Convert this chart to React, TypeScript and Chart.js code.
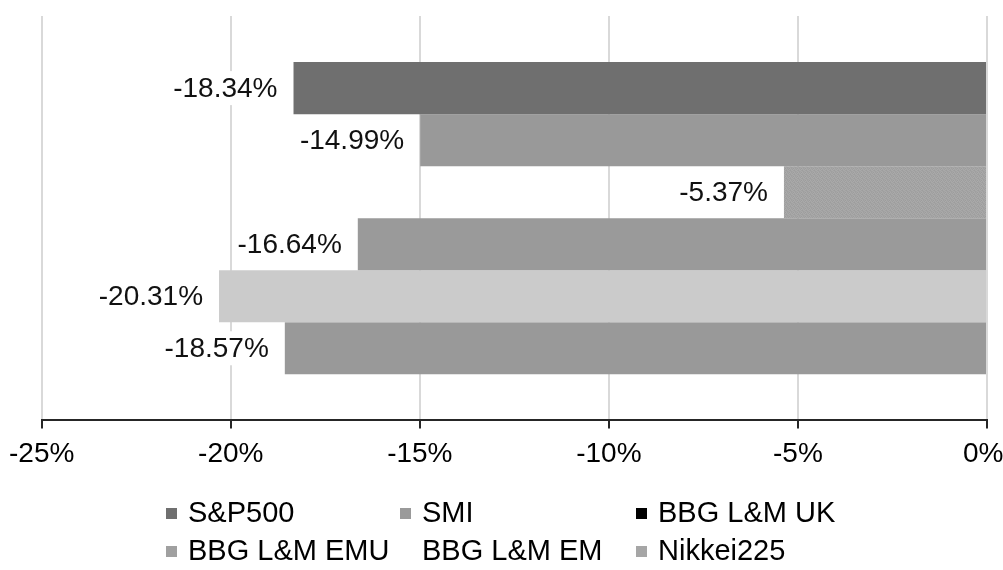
import React, { useEffect, useRef } from 'react';
import { Chart, registerables } from 'chart.js';

Chart.register(...registerables);

// Index returns by market
const seriesNames = ['S&P500', 'SMI', 'BBG L&M UK', 'BBG L&M EMU', 'BBG L&M EM', 'Nikkei225'];
const seriesValues = [-18.34, -14.99, -5.37, -16.64, -20.31, -18.57];
const barColors = ['#6f6f6f', '#999999', 'texture', '#9a9a9a', '#cbcbcb', '#999999'];
const legendColors: (string | null)[] = ['#6f6f6f', '#9a9a9a', '#000000', '#a0a0a0', null, '#a6a6a6'];
const xTickValues = [-25, -20, -15, -10, -5, 0];

const FONT = '"Liberation Sans", Arial, sans-serif';

// Legend grid: three columns, two rows
const legendCols = [166, 400, 636];
const legendRows = [522, 560];

function makeTexture(ctx: CanvasRenderingContext2D): CanvasPattern | string {
  const c = document.createElement('canvas');
  c.width = 4;
  c.height = 4;
  const p = c.getContext('2d');
  if (!p) return '#a4a4a4';
  const shades = [
    '#a6a6a6', '#9c9c9c', '#aaaaaa', '#a0a0a0',
    '#9e9e9e', '#ababab', '#a2a2a2', '#a8a8a8',
    '#a9a9a9', '#a1a1a1', '#9d9d9d', '#a7a7a7',
    '#a3a3a3', '#a8a8a8', '#a5a5a5', '#9f9f9f',
  ];
  shades.forEach((s, i) => {
    p.fillStyle = s;
    p.fillRect(i % 4, Math.floor(i / 4), 1, 1);
  });
  return ctx.createPattern(c, 'repeat') || '#a4a4a4';
}

const valueLabels = {
  id: 'valueLabels',
  afterDatasetsDraw(chart: any) {
    const ctx = chart.ctx as CanvasRenderingContext2D;
    ctx.save();
    ctx.font = `28px ${FONT}`;
    ctx.textAlign = 'right';
    ctx.textBaseline = 'middle';
    chart.data.datasets.forEach((ds: any, i: number) => {
      const meta = chart.getDatasetMeta(i);
      const bar = meta.data[0];
      if (!bar) return;
      const text = `${(ds.data[0] as number).toFixed(2)}%`;
      const xEnd = bar.x - 16;
      const w = ctx.measureText(text).width;
      ctx.fillStyle = '#ffffff';
      ctx.fillRect(xEnd - w - 4, bar.y - 17, w + 8, 34);
      ctx.fillStyle = '#111111';
      ctx.fillText(text, xEnd, bar.y + 1);
    });
    ctx.restore();
  },
};

const gridLegend = {
  id: 'gridLegend',
  afterDraw(chart: any) {
    const ctx = chart.ctx as CanvasRenderingContext2D;
    ctx.save();
    ctx.font = `29px ${FONT}`;
    ctx.textAlign = 'left';
    ctx.textBaseline = 'alphabetic';
    seriesNames.forEach((name, i) => {
      const x = legendCols[i % 3];
      const y = legendRows[Math.floor(i / 3)];
      const swatch = legendColors[i];
      if (swatch) {
        ctx.fillStyle = swatch;
        ctx.fillRect(x, y - 14, 11, 11);
      }
      ctx.fillStyle = '#000000';
      ctx.fillText(name, x + 22, y);
    });
    ctx.restore();
  },
};

export default function App() {
  const canvasRef = useRef<HTMLCanvasElement | null>(null);

  useEffect(() => {
    const canvas = canvasRef.current;
    if (!canvas) return;
    const ctx = canvas.getContext('2d');
    if (!ctx) return;

    const datasets = seriesNames.map((name, i) => ({
      label: name,
      data: [seriesValues[i]],
      backgroundColor: barColors[i] === 'texture' ? makeTexture(ctx) : barColors[i],
      borderWidth: 0,
      barPercentage: 1,
      categoryPercentage: 0.772,
    }));

    const lastTick = xTickValues[xTickValues.length - 1];

    const chart = new Chart(ctx, {
      type: 'bar',
      data: { labels: [''], datasets },
      options: {
        indexAxis: 'y',
        responsive: false,
        animation: false,
        devicePixelRatio: 1,
        layout: { padding: { left: 41, right: 16, top: 16, bottom: 90 } },
        plugins: {
          legend: { display: false },
          tooltip: { enabled: false },
        },
        scales: {
          x: {
            min: xTickValues[0],
            max: lastTick,
            afterBuildTicks(scale: any) {
              scale.ticks = xTickValues.map((v) => ({ value: v }));
            },
            afterFit(scale: any) {
              // let the last label run up to the canvas edge
              scale.paddingRight = 0;
            },
            grid: {
              color: '#d9d9d9',
              lineWidth: 2,
              tickColor: '#262626',
              tickWidth: 2,
              tickLength: 8,
            },
            border: { display: true, color: '#262626', width: 2 },
            ticks: {
              padding: 9,
              color: '#000000',
              font: { family: FONT, size: 28 },
              // trailing space nudges the edge label inside the canvas
              callback: (v: any) => (v === lastTick ? `${v}% ` : `${v}%`),
            },
          },
          y: { display: false },
        },
      },
      plugins: [valueLabels, gridLegend],
    });

    return () => chart.destroy();
  }, []);

  return (
    <div
      style={{
        position: 'fixed',
        left: 0,
        top: 0,
        width: 1003,
        height: 570,
        overflow: 'hidden',
        background: '#ffffff',
      }}
    >
      <canvas ref={canvasRef} width={1003} height={570} style={{ display: 'block' }} />
    </div>
  );
}
